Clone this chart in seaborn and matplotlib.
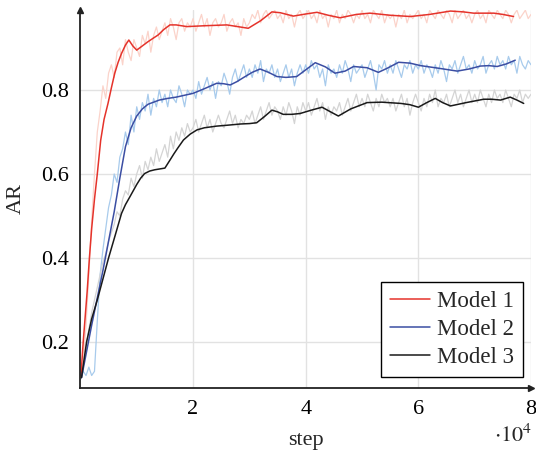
import numpy as np
import pandas as pd
import seaborn as sns
import matplotlib.pyplot as plt

# smoothed curves (step in units of 10^4)
m1_step = [0.01, 0.05, 0.12, 0.16, 0.20, 0.25, 0.30, 0.36, 0.42, 0.49, 0.55, 0.61, 0.67, 0.73, 0.80,
           0.86, 0.93, 1.00, 1.10, 1.20, 1.30, 1.38, 1.48, 1.59, 1.70, 1.89, 2.20, 2.60, 2.98, 3.20,
           3.40, 3.55, 3.78, 4.00, 4.20, 4.40, 4.61, 4.90, 5.14, 5.50, 5.86, 6.20, 6.57, 6.80, 6.98,
           7.34, 7.50, 7.69]
m1_ar = [0.12, 0.20, 0.32, 0.40, 0.47, 0.54, 0.60, 0.68, 0.73, 0.768, 0.805, 0.84, 0.866, 0.887, 0.907,
         0.919, 0.905, 0.895, 0.905, 0.915, 0.924, 0.931, 0.944, 0.955, 0.955, 0.951, 0.953, 0.955, 0.947, 0.965,
         0.986, 0.984, 0.976, 0.981, 0.985, 0.978, 0.972, 0.980, 0.983, 0.978, 0.975, 0.980, 0.988, 0.986, 0.983,
         0.983, 0.980, 0.975]

m2_step = [0.02, 0.20, 0.40, 0.60, 0.70, 0.80, 0.90, 1.00, 1.10, 1.20, 1.40, 1.55, 1.70, 2.00, 2.20,
           2.42, 2.54, 2.66, 2.78, 2.90, 3.05, 3.19, 3.34, 3.49, 3.65, 3.84, 4.00, 4.17, 4.35, 4.52,
           4.70, 4.85, 5.09, 5.29, 5.45, 5.65, 5.85, 6.04, 6.35, 6.69, 6.90, 7.10, 7.25, 7.40, 7.56, 7.72]
m2_ar = [0.115, 0.24, 0.37, 0.51, 0.59, 0.665, 0.71, 0.738, 0.755, 0.766, 0.776, 0.780, 0.783, 0.792, 0.803,
         0.816, 0.815, 0.812, 0.820, 0.830, 0.842, 0.850, 0.842, 0.832, 0.830, 0.832, 0.848, 0.865, 0.855, 0.840,
         0.845, 0.856, 0.853, 0.842, 0.852, 0.866, 0.864, 0.858, 0.852, 0.845, 0.850, 0.857, 0.858, 0.856, 0.862, 0.871]

m3_step = [0.02, 0.11, 0.20, 0.30, 0.40, 0.50, 0.62, 0.73, 0.80, 0.88, 1.00, 1.07, 1.14, 1.23, 1.32,
           1.41, 1.50, 1.59, 1.66, 1.73, 1.83, 1.95, 2.07, 2.20, 2.42, 2.60, 2.84, 3.00, 3.13, 3.27,
           3.40, 3.50, 3.60, 3.75, 3.90, 4.10, 4.29, 4.44, 4.58, 4.80, 5.09, 5.35, 5.69, 5.85, 6.00,
           6.15, 6.30, 6.43, 6.57, 6.85, 7.16, 7.30, 7.46, 7.63, 7.75, 7.87]
m3_ar = [0.115, 0.20, 0.255, 0.30, 0.35, 0.40, 0.455, 0.506, 0.527, 0.546, 0.575, 0.590, 0.601, 0.607, 0.610,
         0.612, 0.614, 0.633, 0.648, 0.662, 0.681, 0.695, 0.705, 0.710, 0.714, 0.716, 0.719, 0.720, 0.722, 0.737,
         0.752, 0.748, 0.742, 0.742, 0.744, 0.752, 0.759, 0.748, 0.738, 0.755, 0.770, 0.771, 0.768, 0.765, 0.759,
         0.770, 0.780, 0.770, 0.762, 0.770, 0.778, 0.778, 0.776, 0.783, 0.776, 0.768]

# raw curves, one value every 0.05 * 10^4 steps from 0 to 8
raw1 = [0.12, 0.15, 0.24, 0.36, 0.49, 0.60, 0.70, 0.75, 0.81, 0.78,
        0.84, 0.86, 0.83, 0.89, 0.90, 0.86, 0.92, 0.89, 0.87, 0.92,
        0.90, 0.88, 0.93, 0.91, 0.94, 0.89, 0.93, 0.95, 0.92, 0.94,
        0.96, 0.93, 0.97, 0.95, 0.92, 0.96, 0.97, 0.94, 0.96, 0.95,
        0.97, 0.94, 0.96, 0.98, 0.95, 0.97, 0.93, 0.96, 0.97, 0.95,
        0.96, 0.98, 0.94, 0.96, 0.97, 0.95, 0.96, 0.93, 0.97, 0.95,
        0.96, 0.98, 0.97, 0.99, 0.96, 0.98, 0.99, 0.97, 0.98, 0.99,
        0.97, 0.98, 0.96, 0.99, 0.97, 0.98, 0.95, 0.98, 0.99, 0.97,
        0.98, 0.99, 0.97, 0.98, 0.96, 0.99, 0.97, 0.98, 0.95, 0.98,
        0.97, 0.99, 0.96, 0.98, 0.97, 0.99, 0.98, 0.96, 0.98, 0.97,
        0.99, 0.97, 0.98, 0.96, 0.99, 0.98, 0.97, 0.99, 0.96, 0.98,
        0.97, 0.98, 0.95, 0.98, 0.97, 0.99, 0.96, 0.98, 0.97, 0.98,
        0.99, 0.97, 0.98, 0.96, 0.99, 0.98, 0.97, 0.99, 0.98, 0.97,
        0.99, 0.98, 0.96, 0.99, 0.97, 0.98, 0.99, 0.97, 0.98, 0.96,
        0.98, 0.99, 0.97, 0.98, 0.96, 0.99, 0.98, 0.97, 0.99, 0.98,
        0.97, 0.99, 0.98, 0.96, 0.98, 0.99, 0.97, 0.98, 0.99, 0.97,
        0.98]
raw2 = [0.11, 0.13, 0.12, 0.14, 0.12, 0.13, 0.25, 0.36, 0.42, 0.47,
        0.52, 0.55, 0.60, 0.58, 0.64, 0.66, 0.70, 0.67, 0.74, 0.70,
        0.76, 0.73, 0.77, 0.75, 0.79, 0.74, 0.78, 0.76, 0.80, 0.77,
        0.79, 0.76, 0.80, 0.78, 0.77, 0.81, 0.79, 0.76, 0.80, 0.79,
        0.80, 0.78, 0.82, 0.79, 0.81, 0.83, 0.80, 0.82, 0.78, 0.82,
        0.81, 0.84, 0.82, 0.79, 0.83, 0.85, 0.82, 0.84, 0.86, 0.83,
        0.85, 0.83, 0.86, 0.84, 0.87, 0.82, 0.85, 0.84, 0.86, 0.83,
        0.85, 0.82, 0.84, 0.86, 0.83, 0.85, 0.81, 0.84, 0.86, 0.84,
        0.86, 0.84, 0.87, 0.85, 0.86, 0.83, 0.85, 0.81, 0.86, 0.84,
        0.85, 0.83, 0.86, 0.84, 0.87, 0.85, 0.82, 0.86, 0.84, 0.85,
        0.86, 0.83, 0.85, 0.87, 0.84, 0.80, 0.86, 0.85, 0.87, 0.84,
        0.86, 0.84, 0.87, 0.85, 0.83, 0.86, 0.85, 0.87, 0.84, 0.86,
        0.85, 0.87, 0.84, 0.86, 0.85, 0.83, 0.86, 0.84, 0.87, 0.85,
        0.82, 0.86, 0.85, 0.87, 0.84, 0.86, 0.88, 0.85, 0.86, 0.84,
        0.87, 0.85, 0.86, 0.88, 0.84, 0.86, 0.87, 0.85, 0.88, 0.86,
        0.87, 0.85, 0.88, 0.86, 0.87, 0.84, 0.88, 0.86, 0.85, 0.87,
        0.86]
raw3 = [0.11, 0.14, 0.19, 0.23, 0.27, 0.30, 0.33, 0.36, 0.39, 0.41,
        0.44, 0.46, 0.48, 0.51, 0.50, 0.54, 0.56, 0.55, 0.59, 0.57,
        0.60, 0.62, 0.59, 0.63, 0.61, 0.64, 0.62, 0.66, 0.63, 0.65,
        0.67, 0.64, 0.69, 0.66, 0.70, 0.68, 0.71, 0.69, 0.72, 0.70,
        0.71, 0.73, 0.70, 0.72, 0.74, 0.71, 0.73, 0.70, 0.72, 0.74,
        0.72, 0.71, 0.73, 0.75, 0.72, 0.74, 0.71, 0.73, 0.72, 0.74,
        0.73, 0.75, 0.72, 0.74, 0.76, 0.73, 0.75, 0.77, 0.74, 0.76,
        0.75, 0.73, 0.76, 0.74, 0.77, 0.75, 0.72, 0.76, 0.74, 0.77,
        0.75, 0.77, 0.74, 0.76, 0.78, 0.75, 0.77, 0.73, 0.76, 0.74,
        0.76, 0.75, 0.77, 0.74, 0.76, 0.78, 0.75, 0.77, 0.79, 0.76,
        0.78, 0.76, 0.79, 0.77, 0.75, 0.78, 0.76, 0.79, 0.77, 0.78,
        0.76, 0.78, 0.75, 0.77, 0.79, 0.76, 0.78, 0.74, 0.77, 0.79,
        0.77, 0.75, 0.78, 0.76, 0.79, 0.77, 0.80, 0.76, 0.78, 0.77,
        0.79, 0.76, 0.78, 0.80, 0.77, 0.79, 0.76, 0.78, 0.80, 0.77,
        0.79, 0.77, 0.80, 0.78, 0.76, 0.79, 0.77, 0.80, 0.78, 0.79,
        0.77, 0.80, 0.78, 0.76, 0.79, 0.78, 0.80, 0.77, 0.79, 0.78,
        0.79]
raw_step = np.arange(len(raw1)) * 0.05

labels = ['Model 1', 'Model 2', 'Model 3']
line_colors = ['#e5332b', '#3b4ea3', '#1a1a1a']
raw_colors = ['#fbd3ca', '#a8cbec', '#d4d4d4']

sns.set_theme(style='white')
plt.rcParams['font.family'] = ['Liberation Serif', 'DejaVu Serif']
plt.rcParams['mathtext.fontset'] = 'stix'
fs = 16

fig = plt.figure(figsize=(5.36, 4.58), dpi=100)
ax = fig.add_axes([0.150, 0.1535, 0.8407, 0.8242])

for raw, c in zip([raw1, raw2, raw3], raw_colors):
    sns.lineplot(x=raw_step, y=raw, color=c, lw=0.9, ax=ax, legend=False)

for xs, ys, c, lab in zip([m1_step, m2_step, m3_step], [m1_ar, m2_ar, m3_ar], line_colors, labels):
    sns.lineplot(x=xs, y=ys, color=c, lw=1.1, ax=ax, label=lab)

ax.set_xlim(0, 8)
ax.set_ylim(0.091, 0.99)
ax.set_xticks([2, 4, 6, 8])
ax.set_xticklabels(['2', '4', '6', '8'])
ax.set_yticks([0.2, 0.4, 0.6, 0.8])
ax.set_yticklabels(['0.2', '0.4', '0.6', '0.8'])
ax.grid(True, color='#e2e2e2', lw=1.0)
ax.set_axisbelow(True)
ax.tick_params(axis='both', labelsize=fs, direction='inout', length=7, width=0.8,
               color='#999999', labelcolor='black')
ax.tick_params(axis='x', pad=5)
ax.tick_params(axis='y', pad=5)

for side in ['top', 'right']:
    ax.spines[side].set_visible(False)
for side in ['left', 'bottom']:
    ax.spines[side].set_color('#222222')
    ax.spines[side].set_linewidth(1.3)
ax.plot(1, 0, '>', color='#222222', ms=5, transform=ax.transAxes, clip_on=False)
ax.plot(0, 1, '^', color='#222222', ms=5, transform=ax.transAxes, clip_on=False)

ax.set_xlabel('step', fontsize=fs, labelpad=9)
ax.set_ylabel('AR', fontsize=fs, labelpad=11)
fig.text(0.993, (458 - 436) / 458, r'$\cdot 10^4$', fontsize=fs, ha='right', va='center')

leg = ax.legend(loc='lower right', bbox_to_anchor=(0.982, 0.029), borderaxespad=0,
                fontsize=16.5, frameon=True, fancybox=False, framealpha=1,
                edgecolor='black', handlelength=1.75, labelspacing=0.3,
                borderpad=0.4, handletextpad=0.3)
leg.get_frame().set_linewidth(1.0)

fig.savefig('out.png', dpi=100)
